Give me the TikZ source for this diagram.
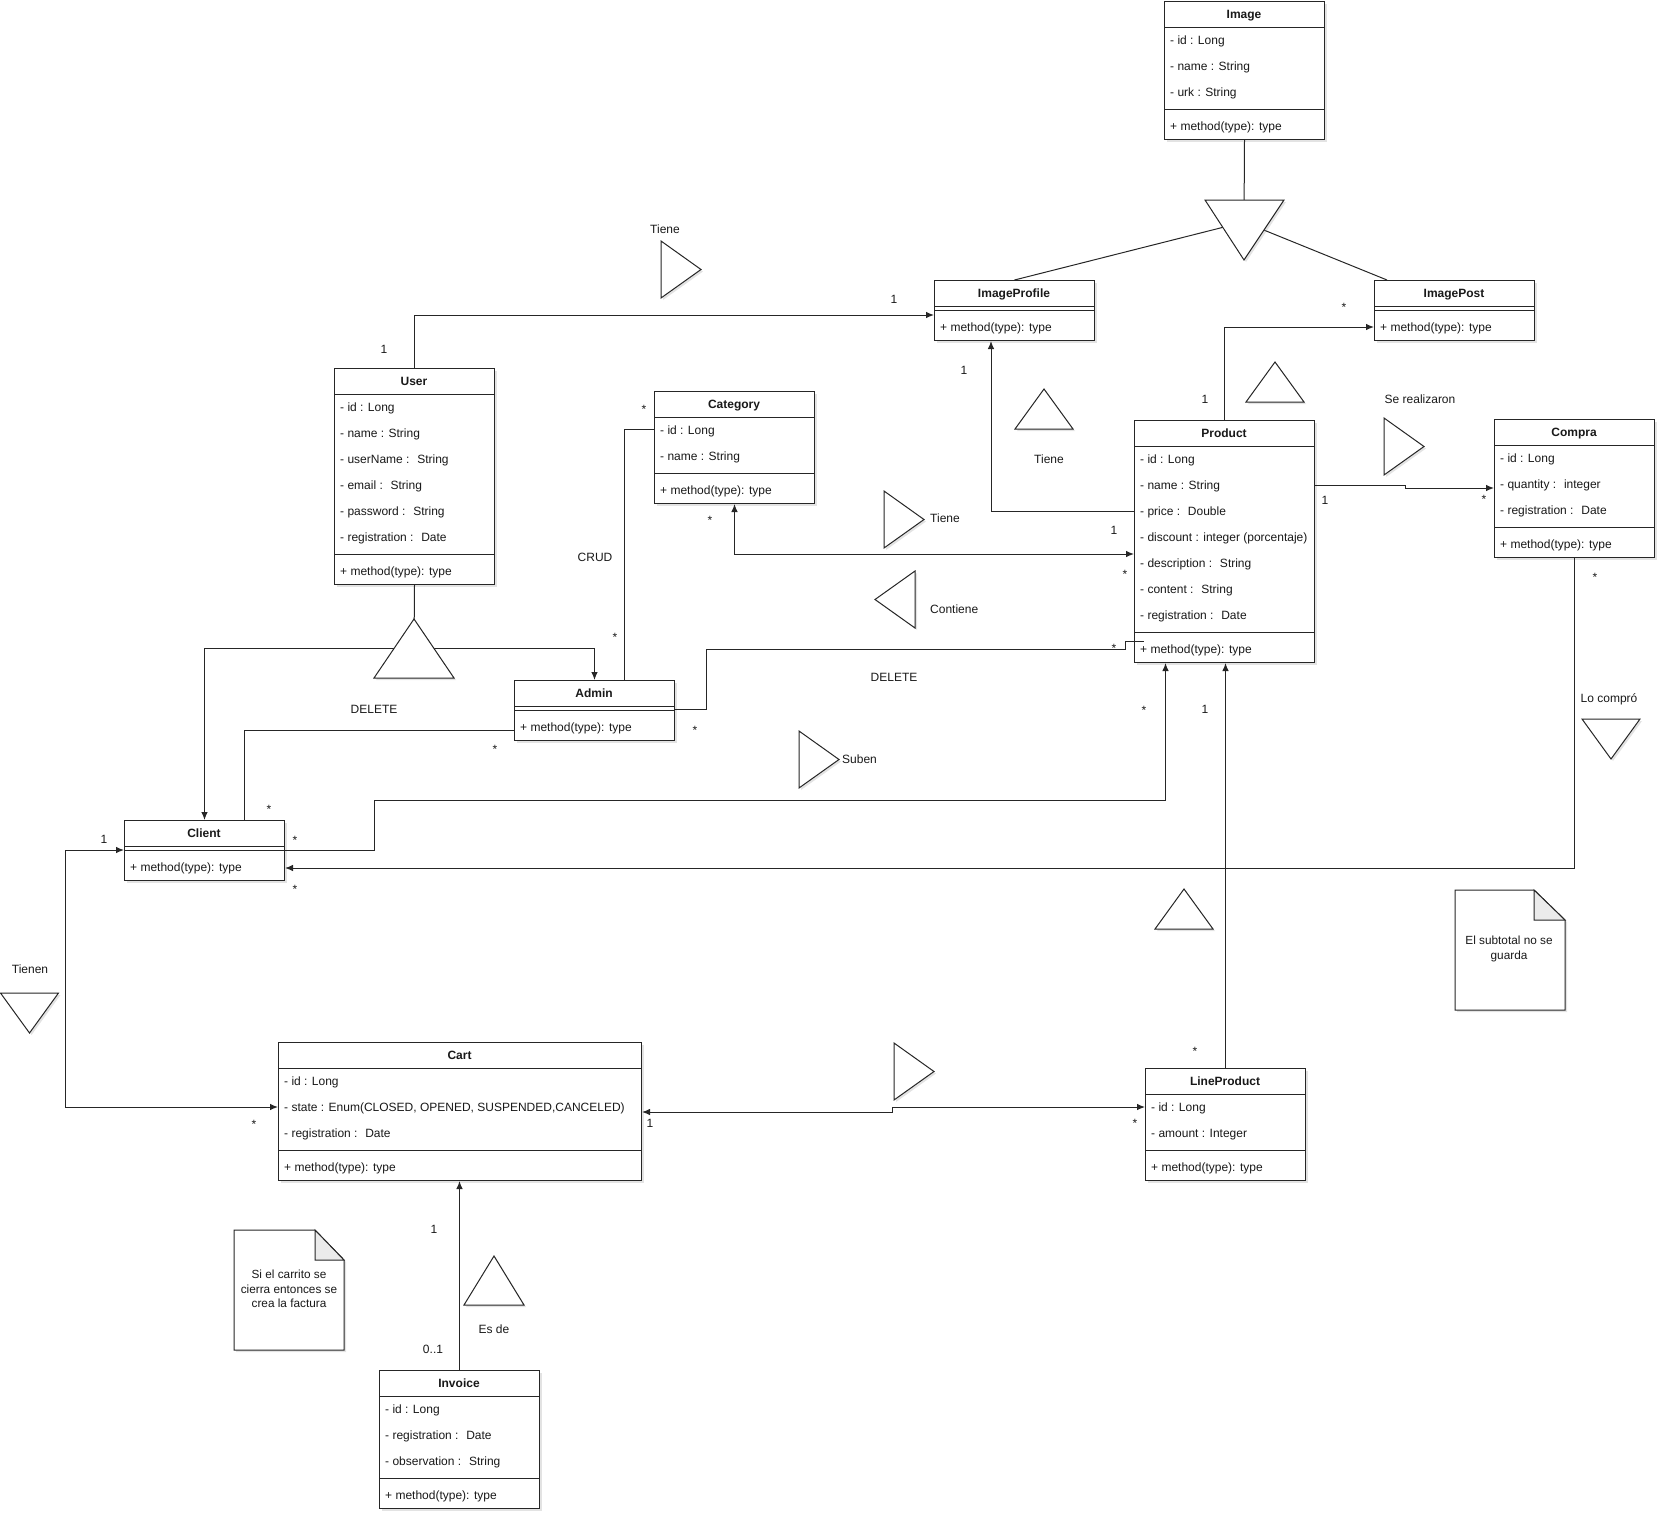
\documentclass[tikz,border=0pt]{standalone}
\usepackage{fontspec}
\setmainfont{Liberation Sans}
\usetikzlibrary{calc,arrows.meta,positioning,shadows}
\tikzstyle{l1}=[line width=1pt, draw=black!85]
\tikzstyle{shad}=[drop shadow={shadow xshift=2pt, shadow yshift=-2pt, opacity=.22}]
\tikzstyle{umlbox}=[rectangle, l1, fill=white, inner sep=0pt, anchor=north west, shad]
\tikzstyle{umltitle}=[font=\ufont\bfseries, inner sep=0pt, text height=8.6pt, text depth=0pt, text=black!90]
\tikzstyle{umlattr}=[font=\ufont, inner sep=0pt, anchor=west, text height=8.6pt, text depth=0pt, text=black!90]
\tikzstyle{lbl}=[font=\ufont, inner sep=0pt, text height=8.6pt, text depth=0pt, text=black!90]
\tikzstyle{mult}=[font=\ufont, inner sep=0pt, text height=8.3pt, text depth=0pt, text=black!90]
\tikzstyle{notetext}=[font=\fontsize{11.8}{14.5}\selectfont, inner sep=0pt, align=center, text=black!90]
\tikzstyle{tri}=[l1, fill=white, shad]
\tikzstyle{notebox}=[l1, fill=white, shad]
\newcommand{\ufont}{\fontsize{12}{14}\selectfont}
% class box: name, x, y, width, title, number of attributes, attributes
\newcommand{\umlclass}[7]{%
  \pgfmathsetmacro{\boxh}{60+26*#6}%
  \node[umlbox, minimum width=#4pt, minimum height=\boxh pt] (#1) at (#2,#3) {};
  \node[umltitle] (#1-title) at ($(#1.north west)+(#4/2,13)$) {#5};
  \draw[l1] ($(#1.north west)+(0,26)$) -- ++(#4,0);
  \foreach \attr [count=\ai] in {#7}{
    \node[umlattr] (#1-a\ai) at ($(#1.north west)+(6,13+26*\ai)$) {\attr};
  }
  \draw[l1] ($(#1.north west)+(0,30+26*#6)$) -- ++(#4,0);
  \node[umlattr] (#1-meth) at ($(#1.north west)+(6,47+26*#6)$) {+ method(type): type};
}

\begin{document}
\begin{tikzpicture}[x=1pt, y=-1pt, >={Latex[length=8pt,width=6.5pt]}]
    \useasboundingbox (0,0) rectangle (1666,1523);

    % classes
    \umlclass{Image}{1164}{1}{160}{Image}{3}{- id : Long, - name : String, - urk : String}
    \umlclass{ImageProfile}{934}{280}{160}{ImageProfile}{0}{}
    \umlclass{ImagePost}{1374}{280}{160}{ImagePost}{0}{}
    \umlclass{User}{334}{368}{160}{User}{6}{- id : Long, - name : String, - userName : ~String, - email : ~String, - password : ~String, - registration : ~Date}
    \umlclass{Category}{654}{391}{160}{Category}{2}{- id : Long, - name : String}
    \umlclass{Product}{1134}{420}{180}{Product}{7}{- id : Long, - name : String, - price : ~Double, - discount : integer (porcentaje), - description : ~String, - content : ~String, - registration : ~Date}
    \umlclass{Compra}{1494}{419}{160}{Compra}{3}{- id : Long, - quantity : ~integer, - registration : ~Date}
    \umlclass{Admin}{514}{680}{160}{Admin}{0}{}
    \umlclass{Client}{124}{820}{160}{Client}{0}{}
    \umlclass{Cart}{278}{1042}{363}{Cart}{3}{- id : Long, {- state : Enum(CLOSED, OPENED, SUSPENDED,CANCELED)}, - registration : ~Date}
    \umlclass{LineProduct}{1145}{1068}{160}{LineProduct}{2}{- id : Long, - amount : Integer}
    \umlclass{Invoice}{379}{1370}{160}{Invoice}{3}{- id : Long, - registration : ~Date, - observation : ~String}

    % generalisation of Image
    \coordinate (imgTri) at (1244,222);
    \draw[l1] (Image.south) -- (imgTri);
    \draw[l1] (ImageProfile.north) -- (imgTri);
    \draw[l1] ($(ImagePost.north west)+(13,0)$) -- (imgTri);
    \draw[tri] (1205,200) -- (1284,200) -- (1244,260) -- cycle;

    % generalisation of User
    \coordinate (genU) at (414,648);
    \draw[l1] (User.south) -- (genU);
    \draw[l1, ->] (genU) -| (Client.north);
    \draw[l1, ->] (genU) -| (Admin.north);
    \draw[tri] (374,678) -- (454,678) -- (414,619) -- cycle;

    % associations
    \draw[l1, ->] (User.north) |- ($(ImageProfile.north west)+(0,35)$);
    \draw[l1, ->] (Product.north) |- ($(ImagePost.north west)+(0,47)$);
    \draw[l1, ->] ($(Product.north west)+(0,91)$) -| ($(ImageProfile.south west)+(57,0)$);
    \draw[l1, <->] (Category.south) |- ($(Product.north west)+(0,134)$);
    \draw[l1] ($(Category.north west)+(0,38)$) -| ($(Admin.north)+(30,0)$);
    \coordinate (pc) at (1405,485);
    \draw[l1, ->] ($(Product.north east)+(0,65)$) -- (pc) -- ++(0,3) -- ($(Compra.north west)+(0,69)$);
    \draw[l1, ->] (Compra.south) |- ($(Client.north east)+(0,48)$);
    \draw[l1] ($(Admin.north west)+(0,50)$) -| ($(Client.north)+(40,0)$);
    \draw[l1] ($(Admin.north east)+(0,29)$) -- ++(31,0) |- (1125,649) -- ++(0,-8) -- ($(Product.north west)+(10,221)$);
    \draw[l1, ->] ($(Client.north east)+(0,30)$) -| (374,800) -| ($(Product.south)+(-59,0)$);
    \draw[l1, <->] ($(Client.north west)+(0,30)$) -| (65,1107) -- ($(Cart.north west)+(0,65)$);
    \draw[l1, <->] ($(Cart.north east)+(0,70)$) -- (892,1112) -- ++(0,-5) -- ($(LineProduct.north west)+(0,39)$);
    \draw[l1, ->] (LineProduct.north) -- (LineProduct.north |- Product.south);
    \draw[l1, ->] (Invoice.north) -- (Invoice.north |- Cart.south);

    % reading direction triangles
    \foreach \tx/\ty in {661/241, 884/491, 1384/418, 799/731, 894/1043}{
            \draw[tri] (\tx,\ty) -- ++(0,57) -- ++(40,-28.5) -- cycle;
        }
    \draw[tri] (915,571) -- ++(0,57) -- ++(-40,-28.5) -- cycle;
    \foreach \tx/\ty in {1015/429, 1246/402, 1155/929}{
            \draw[tri] (\tx,\ty) -- ++(58,0) -- ++(-29,-40) -- cycle;
        }
    \draw[tri] (464,1305) -- ++(60,0) -- ++(-30,-49) -- cycle;
    \draw[tri] (1582,719) -- ++(58,0) -- ++(-29,40) -- cycle;
    \draw[tri] (0.5,993) -- ++(58,0) -- ++(-29,40) -- cycle;

    % notes
    \draw[notebox] (234,1230) -- (315,1230) -- (344,1260) -- (344,1350) -- (234,1350) -- cycle;
    \draw[l1, fill=black!8] (315,1230) -- (315,1260) -- (344,1260) -- cycle;
    \node[notetext] (note1) at (289,1289) {Si el carrito se\\cierra entonces se\\crea la factura};
    \draw[notebox] (1455,890) -- (1534,890) -- (1565,920) -- (1565,1010) -- (1455,1010) -- cycle;
    \draw[l1, fill=black!8] (1534,890) -- (1534,920) -- (1565,920) -- cycle;
    \node[notetext] (note2) at (1509,949) {El subtotal no se\\guarda};

    % association names
    \node[lbl] (tiene1) at (665,229) {Tiene};
    \node[lbl] (tiene2) at (1049,459) {Tiene};
    \node[lbl, anchor=west] (tiene3) at (930,518) {Tiene};
    \node[lbl, anchor=west] (contiene) at (930,609) {Contiene};
    \node[lbl] (crud) at (595,557) {CRUD};
    \node[lbl] (delete1) at (374,709) {DELETE};
    \node[lbl] (delete2) at (894,677) {DELETE};
    \node[lbl, anchor=west] (suben) at (842,759) {Suben};
    \node[lbl] (serealizaron) at (1420,399) {Se realizaron};
    \node[lbl] (locompro) at (1609,698) {Lo compró};
    \node[lbl] (tienen) at (30,969) {Tienen};
    \node[lbl] (esde) at (494,1329) {Es de};

    % multiplicities
    \foreach \mx/\my/\mt [count=\mi] in {384/349/1, 894/299/1, 964/370/1, 644/409/*, 710/520/*,
            1114/530/1, 1125/574/*, 1205/399/1, 1344/307/*, 1325/500/1, 1484/499/*, 1595/577/*,
            1114/648/*, 1144/710/*, 1205/709/1, 615/637/*, 695/730/*, 495/749/*, 269/809/*,
            295/840/*, 295/889/*, 104/839/1, 254/1124/*, 650/1123/1, 1195/1051/*, 1135/1123/*, 434/1229/1}{
            \node[mult] (m\mi) at (\mx,\my) {\mt};
        }
    \node[mult] (minv) at (433,1349) {0..1};

\end{tikzpicture}
\end{document}
